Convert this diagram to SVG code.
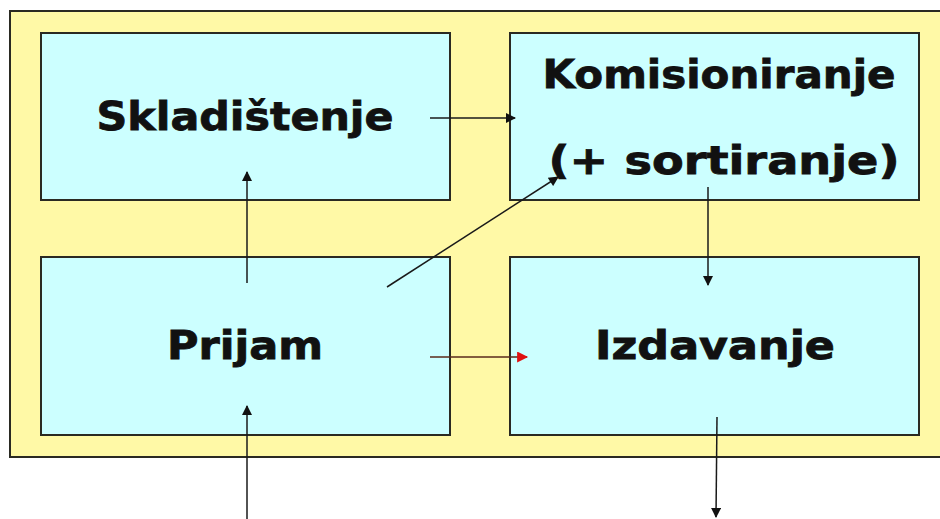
<svg xmlns="http://www.w3.org/2000/svg" width="940" height="519" viewBox="0 0 940 519">
  <defs>
    <marker id="ah" viewBox="0 0 10 10" refX="9" refY="5" markerWidth="12" markerHeight="10" markerUnits="userSpaceOnUse" orient="auto">
      <path d="M0,0 L10,5 L0,10 z" fill="#111"/>
    </marker>
    <marker id="ahr" viewBox="0 0 10 10" refX="9" refY="5" markerWidth="13" markerHeight="11" markerUnits="userSpaceOnUse" orient="auto">
      <path d="M0,0 L10,5 L0,10 z" fill="#e01010"/>
    </marker>
  </defs>
  <style>
    .box { fill: #ccffff; stroke: #2a2a22; stroke-width: 2; }
    .lbl { font-family: "DejaVu Sans", Verdana, sans-serif; font-weight: bold; font-size: 39px; fill: #111; text-anchor: middle; stroke: #111; stroke-width: 0.8; }
    .con { stroke: #1a1a1a; stroke-width: 1.5; fill: none; marker-end: url(#ah); }
    .red { stroke: #5a2a1a; stroke-width: 1.5; fill: none; marker-end: url(#ahr); }
  </style>
  <rect width="940" height="519" fill="#ffffff"/>
  <rect x="10" y="11" width="940" height="446" fill="#fff9a6" stroke="#2a2a22" stroke-width="2"/>
  <g id="skladistenje">
    <rect class="box" x="41" y="33" width="409" height="167"/>
    <text class="lbl" x="245" y="130" textLength="297" lengthAdjust="spacingAndGlyphs">Skladištenje</text>
  </g>
  <g id="komisioniranje">
    <rect class="box" x="510" y="33" width="409" height="167"/>
    <text class="lbl" x="719" y="88" textLength="353" lengthAdjust="spacingAndGlyphs">Komisioniranje</text>
    <text class="lbl" x="724" y="174" textLength="351" lengthAdjust="spacingAndGlyphs">(+ sortiranje)</text>
  </g>
  <g id="prijam">
    <rect class="box" x="41" y="257" width="409" height="178"/>
    <text class="lbl" x="245" y="359" textLength="156" lengthAdjust="spacingAndGlyphs">Prijam</text>
  </g>
  <g id="izdavanje">
    <rect class="box" x="510" y="257" width="409" height="178"/>
    <text class="lbl" x="715" y="359" textLength="240" lengthAdjust="spacingAndGlyphs">Izdavanje</text>
  </g>
  <g id="connectors">
    <line class="con" x1="430" y1="118" x2="515" y2="118"/>
    <line class="con" x1="247" y1="283" x2="247" y2="172"/>
    <line class="con" x1="387" y1="287" x2="558" y2="177"/>
    <line class="con" x1="708" y1="187" x2="708" y2="285"/>
    <line class="red" x1="430" y1="357" x2="527" y2="357"/>
    <line class="con" x1="247" y1="519" x2="247" y2="406"/>
    <line class="con" x1="717" y1="417" x2="716" y2="517"/>
  </g>
</svg>
